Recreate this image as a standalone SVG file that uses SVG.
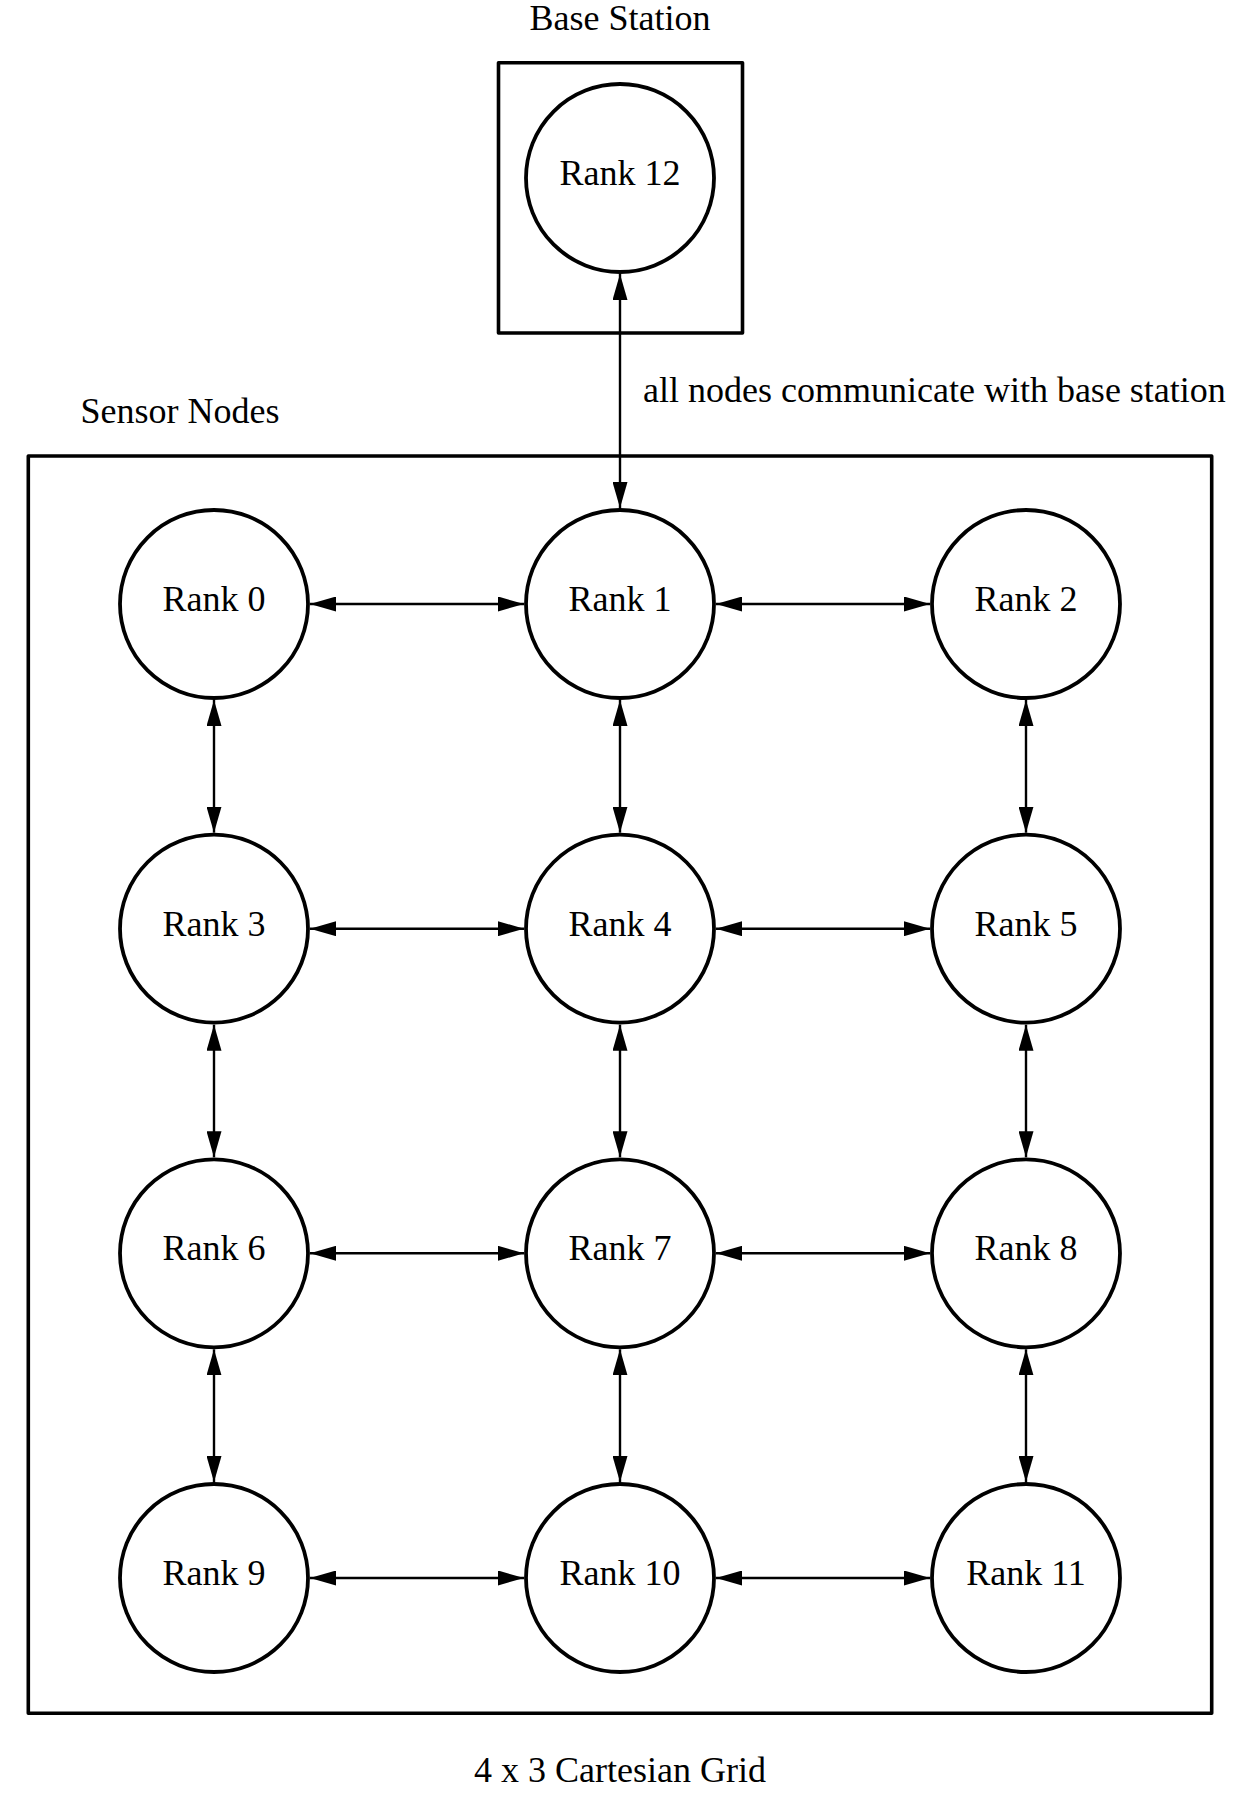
<svg xmlns="http://www.w3.org/2000/svg" width="1244" height="1794" viewBox="0 0 1244 1794">
<style>
  text { font-family: "Liberation Serif", "Times New Roman", serif; font-size: 36px; fill: #000; }
  .mid { text-anchor: middle; }
  .cluster { fill: none; stroke: #000; stroke-width: 3.6; stroke-linejoin: round; }
  .node circle { fill: #fff; stroke: #000; stroke-width: 3.8; }
  .edge { stroke: #000; stroke-width: 2.4; fill: none; }
</style>
<defs>
  <marker id="ah" viewBox="0 0 26 15" refX="26" refY="7.5" markerWidth="26" markerHeight="15" markerUnits="userSpaceOnUse" orient="auto-start-reverse">
    <path d="M0,0 L26,7.5 L0,15 Z" fill="#000"/>
  </marker>
</defs>
<rect id="bg" x="0" y="0" width="1244" height="1794" fill="#fff"/>

<g id="cluster-base">
  <rect class="cluster" x="498.5" y="62.7" width="244" height="270.3"/>
  <text class="mid" x="620" y="30">Base Station</text>
</g>
<g id="cluster-sensors">
  <rect class="cluster" x="28.3" y="456" width="1183.4" height="1257.3"/>
  <text class="mid" x="180" y="423">Sensor Nodes</text>
  <text class="mid" x="620" y="1782">4 x 3 Cartesian Grid</text>
</g>

<g id="edges">
  <!-- base station link -->
  <line class="edge" x1="620" y1="274" x2="620" y2="508" marker-start="url(#ah)" marker-end="url(#ah)"/>
  <text x="643" y="402">all nodes communicate with base station</text>
  <!-- horizontal links -->
  <line class="edge" x1="310" y1="604" x2="524" y2="604" marker-start="url(#ah)" marker-end="url(#ah)"/>
  <line class="edge" x1="716" y1="604" x2="930" y2="604" marker-start="url(#ah)" marker-end="url(#ah)"/>
  <line class="edge" x1="310" y1="928.7" x2="524" y2="928.7" marker-start="url(#ah)" marker-end="url(#ah)"/>
  <line class="edge" x1="716" y1="928.7" x2="930" y2="928.7" marker-start="url(#ah)" marker-end="url(#ah)"/>
  <line class="edge" x1="310" y1="1253.3" x2="524" y2="1253.3" marker-start="url(#ah)" marker-end="url(#ah)"/>
  <line class="edge" x1="716" y1="1253.3" x2="930" y2="1253.3" marker-start="url(#ah)" marker-end="url(#ah)"/>
  <line class="edge" x1="310" y1="1578" x2="524" y2="1578" marker-start="url(#ah)" marker-end="url(#ah)"/>
  <line class="edge" x1="716" y1="1578" x2="930" y2="1578" marker-start="url(#ah)" marker-end="url(#ah)"/>
  <!-- vertical links -->
  <line class="edge" x1="214" y1="700" x2="214" y2="832.7" marker-start="url(#ah)" marker-end="url(#ah)"/>
  <line class="edge" x1="620" y1="700" x2="620" y2="832.7" marker-start="url(#ah)" marker-end="url(#ah)"/>
  <line class="edge" x1="1026" y1="700" x2="1026" y2="832.7" marker-start="url(#ah)" marker-end="url(#ah)"/>
  <line class="edge" x1="214" y1="1024.7" x2="214" y2="1157.3" marker-start="url(#ah)" marker-end="url(#ah)"/>
  <line class="edge" x1="620" y1="1024.7" x2="620" y2="1157.3" marker-start="url(#ah)" marker-end="url(#ah)"/>
  <line class="edge" x1="1026" y1="1024.7" x2="1026" y2="1157.3" marker-start="url(#ah)" marker-end="url(#ah)"/>
  <line class="edge" x1="214" y1="1349.3" x2="214" y2="1482" marker-start="url(#ah)" marker-end="url(#ah)"/>
  <line class="edge" x1="620" y1="1349.3" x2="620" y2="1482" marker-start="url(#ah)" marker-end="url(#ah)"/>
  <line class="edge" x1="1026" y1="1349.3" x2="1026" y2="1482" marker-start="url(#ah)" marker-end="url(#ah)"/>
</g>

<g id="rank12" class="node"><circle cx="620" cy="178" r="94"/><text class="mid" x="620" y="185">Rank 12</text></g>
<g id="rank0" class="node"><circle cx="214" cy="604" r="94"/><text class="mid" x="214" y="611">Rank 0</text></g>
<g id="rank1" class="node"><circle cx="620" cy="604" r="94"/><text class="mid" x="620" y="611">Rank 1</text></g>
<g id="rank2" class="node"><circle cx="1026" cy="604" r="94"/><text class="mid" x="1026" y="611">Rank 2</text></g>
<g id="rank3" class="node"><circle cx="214" cy="928.7" r="94"/><text class="mid" x="214" y="935.7">Rank 3</text></g>
<g id="rank4" class="node"><circle cx="620" cy="928.7" r="94"/><text class="mid" x="620" y="935.7">Rank 4</text></g>
<g id="rank5" class="node"><circle cx="1026" cy="928.7" r="94"/><text class="mid" x="1026" y="935.7">Rank 5</text></g>
<g id="rank6" class="node"><circle cx="214" cy="1253.3" r="94"/><text class="mid" x="214" y="1260.3">Rank 6</text></g>
<g id="rank7" class="node"><circle cx="620" cy="1253.3" r="94"/><text class="mid" x="620" y="1260.3">Rank 7</text></g>
<g id="rank8" class="node"><circle cx="1026" cy="1253.3" r="94"/><text class="mid" x="1026" y="1260.3">Rank 8</text></g>
<g id="rank9" class="node"><circle cx="214" cy="1578" r="94"/><text class="mid" x="214" y="1585">Rank 9</text></g>
<g id="rank10" class="node"><circle cx="620" cy="1578" r="94"/><text class="mid" x="620" y="1585">Rank 10</text></g>
<g id="rank11" class="node"><circle cx="1026" cy="1578" r="94"/><text class="mid" x="1026" y="1585">Rank 11</text></g>
</svg>
